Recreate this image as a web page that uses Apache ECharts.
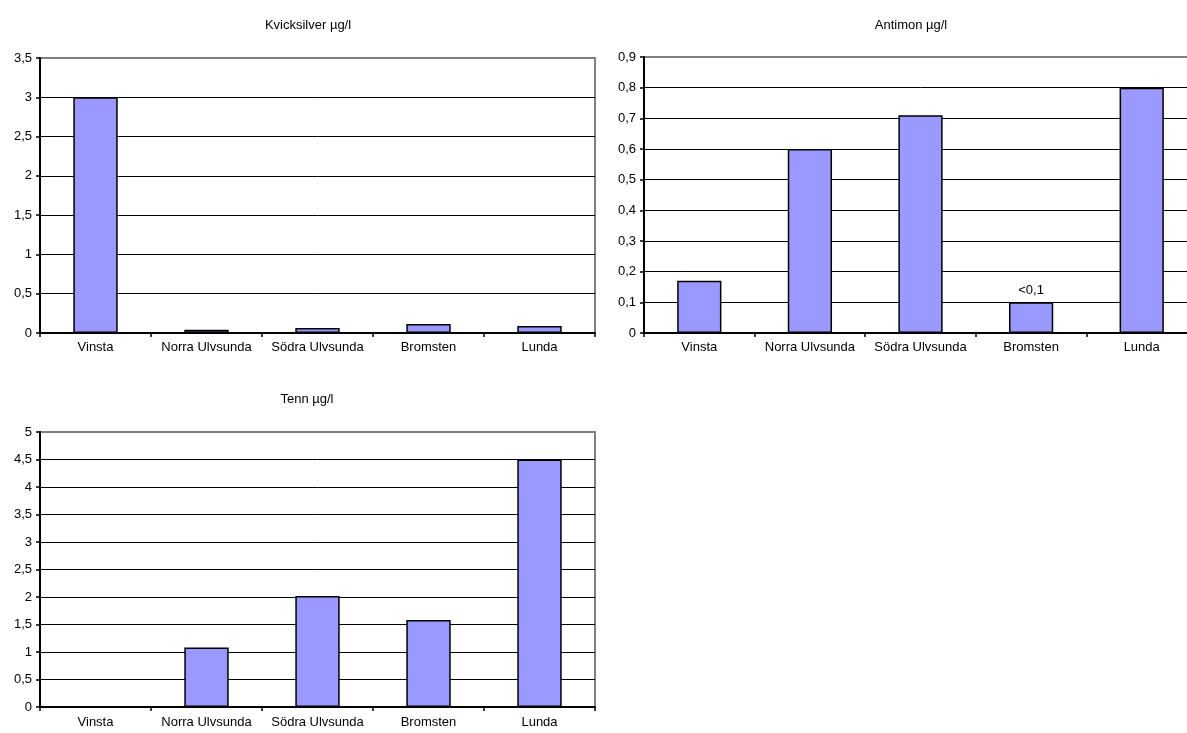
<!DOCTYPE html>
<html>
<head>
<meta charset="utf-8">
<script src="https://cdn.jsdelivr.net/npm/echarts@6/dist/echarts.min.js"></script>
<style>
  html, body { margin: 0; padding: 0; background: #fff; overflow: hidden; }
  /* The right-hand panel runs slightly past the page edge, so the canvas is a bit wider than the window */
  #chart { width: 1204px; height: 733px; }
</style>
</head>
<body>
<div id="chart"></div>
<script>
// Sampling sites shared by all three panels
const sites = ['Vinsta', 'Norra Ulvsunda', 'Södra Ulvsunda', 'Bromsten', 'Lunda'];

// Measured concentrations, µg/l
const kvicksilver = [3.0, 0.04, 0.065, 0.115, 0.09];
const antimon = [0.17, 0.6, 0.71, 0.1, 0.8];
const tenn = [0, 1.08, 2.02, 1.58, 4.5];

// Text shown above a bar in place of its value (below detection limit)
const antimonNotes = [null, null, null, '<0,1', null];

const FONT = '"Liberation Sans", Arial, sans-serif';
const FS = 13;
const BAR = '#9999ff';

function decimalComma(v) {
  return String(+v.toFixed(2)).replace('.', ',');
}

function panelGrid(left, top, width, height) {
  return {
    left, top, width, height,
    show: true,
    borderColor: '#808080',
    borderWidth: 2,
    backgroundColor: 'transparent'
  };
}

function xAxisFor(gridIndex, margin) {
  return {
    type: 'category',
    gridIndex,
    data: sites,
    boundaryGap: true,
    axisLine: { lineStyle: { color: '#000', width: 2 } },
    axisTick: { show: true, interval: 0, length: 4, lineStyle: { color: '#000', width: 1.5 } },
    axisLabel: { interval: 0, color: '#000', fontFamily: FONT, fontSize: FS, margin },
    splitLine: { show: false }
  };
}

function yAxisFor(gridIndex, max, interval) {
  return {
    type: 'value',
    gridIndex,
    min: 0,
    max,
    interval,
    axisLine: { show: true, lineStyle: { color: '#000', width: 2 } },
    axisTick: { show: true, length: 4, lineStyle: { color: '#000', width: 1.5 } },
    axisLabel: { color: '#000', fontFamily: FONT, fontSize: FS, margin: 8, formatter: decimalComma },
    splitLine: { show: true, showMaxLine: false, lineStyle: { color: '#000', width: 1 } }
  };
}

function barSeries(index, values, notes) {
  return {
    type: 'bar',
    xAxisIndex: index,
    yAxisIndex: index,
    barCategoryGap: '60%',
    data: values.map((v, i) => {
      const item = { value: v };
      if (notes && notes[i]) {
        item.label = {
          show: true,
          position: 'top',
          distance: 5,
          formatter: notes[i],
          color: '#000',
          fontFamily: FONT,
          fontSize: FS
        };
      }
      return item;
    }),
    itemStyle: { color: BAR, borderColor: '#000', borderWidth: 1.5 },
    silent: true,
    animation: false
  };
}

function titleAt(text, centerX, y) {
  return {
    text,
    left: centerX,
    top: y,
    textAlign: 'center',
    textStyle: { color: '#000', fontFamily: FONT, fontSize: FS, fontWeight: 'normal' }
  };
}

const chart = echarts.init(document.getElementById('chart'), null, { renderer: 'canvas' });

chart.setOption({
  backgroundColor: '#fff',
  animation: false,
  title: [
    titleAt('Kvicksilver µg/l', 303, 14),
    titleAt('Antimon µg/l', 906, 14),
    titleAt('Tenn µg/l', 302, 388)
  ],
  grid: [
    panelGrid(40, 58, 555, 275),
    panelGrid(644, 57, 553, 276),
    panelGrid(40, 432, 555, 275)
  ],
  xAxis: [xAxisFor(0, 8), xAxisFor(1, 8), xAxisFor(2, 9)],
  yAxis: [yAxisFor(0, 3.5, 0.5), yAxisFor(1, 0.9, 0.1), yAxisFor(2, 5, 0.5)],
  series: [
    barSeries(0, kvicksilver),
    barSeries(1, antimon, antimonNotes),
    barSeries(2, tenn)
  ]
});
</script>
</body>
</html>
